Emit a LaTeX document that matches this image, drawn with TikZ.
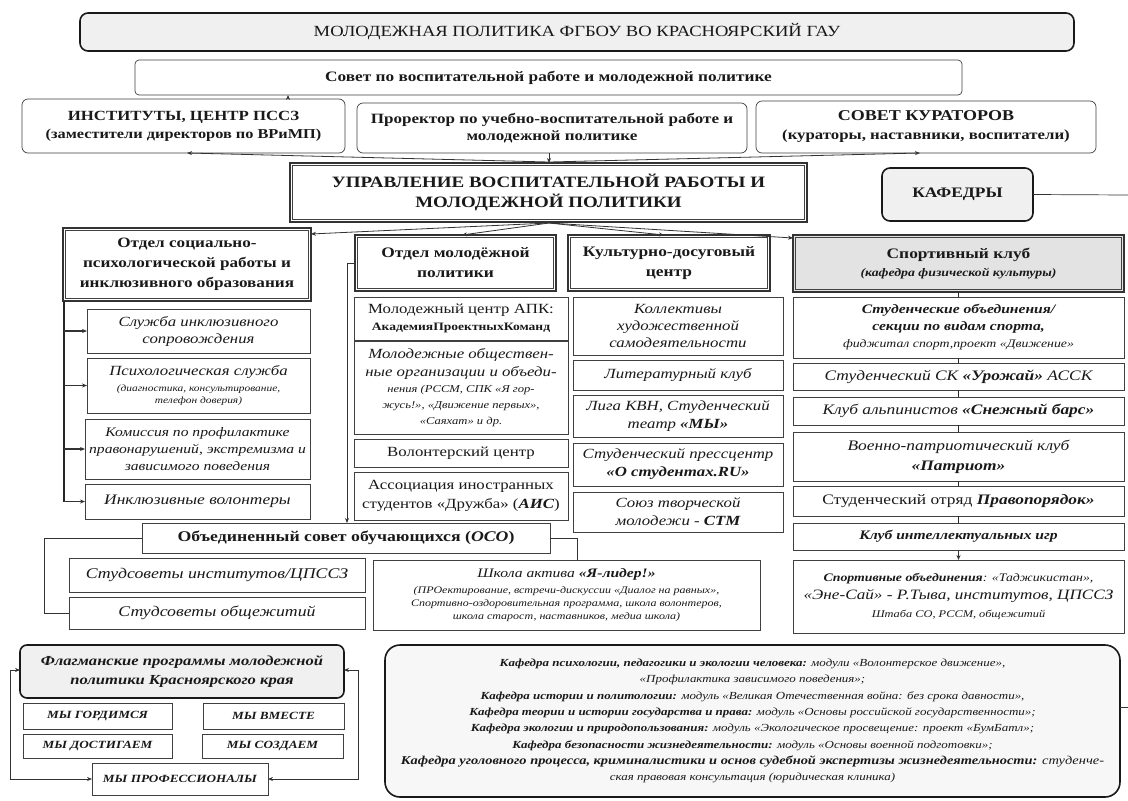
\documentclass[tikz,border=0pt]{standalone}
\usepackage{fontspec}
\setmainfont{Liberation Serif}[FakeStretch=1.2]
\usetikzlibrary{arrows.meta}
\newcommand\fsz[2]{\fontsize{#1}{#2}\selectfont}
\newcommand\bx[8]{\node[#6, font={#7}, minimum width={#4pt-#2pt}, minimum height={#5pt-#3pt}] (#1) at ({(#2+#4)/2},{(#3+#5)/2}) {#8};}
\tikzset{
 box/.style={draw=black!75, line width=0.7pt, fill=white, align=center, inner sep=1pt, outer sep=0pt, text=black!90},
 hdr/.style={box, line width=1.3pt, draw=black!80},
 inner/.style={draw=black!75, line width=0.6pt},
 rbox/.style={box, rounded corners=6pt},
 thickrbox/.style={box, rounded corners=8pt, line width=1.6pt, draw=black!90, fill=black!6},
 arr/.style={draw=black!80, line width=0.8pt, -{Stealth[length=5pt,width=4pt]}},
 darr/.style={draw=black!80, line width=0.8pt, {Stealth[length=5pt,width=4pt]}-{Stealth[length=5pt,width=4pt]}},
 ln/.style={draw=black!80, line width=0.7pt},
 thk/.style={draw=black!85, line width=1.6pt},
}
\begin{document}
\begin{tikzpicture}[x=1pt,y=-1pt]
\useasboundingbox[fill=white] (0,0) rectangle (1128,801);
% top tier
\bx{title}{80}{13}{1074}{51}{thickrbox}{\fsz{15.5}{18}}{МОЛОДЕЖНАЯ ПОЛИТИКА ФГБОУ ВО КРАСНОЯРСКИЙ ГАУ}
\bx{sovet}{135}{60}{962}{95}{rbox, rounded corners=4pt}{\fsz{14.4}{17}\bfseries}{Совет по воспитательной работе и молодежной политике}
\bx{inst}{22}{99}{345}{153}{rbox}{\fsz{13.6}{18}\bfseries}{{\fsz{14}{18}ИНСТИТУТЫ, ЦЕНТР ПССЗ}\\(заместители директоров по ВРиМП)}
\bx{prorektor}{357}{103}{747}{153}{rbox}{\fsz{14.2}{17}\bfseries}{Проректор по учебно-воспитательной работе и\\молодежной политике}
\bx{kurator}{756}{101}{1096}{153}{rbox}{\fsz{14}{19}\bfseries}{{\fsz{15}{18}СОВЕТ КУРАТОРОВ}\\(кураторы, наставники, воспитатели)}
\bx{upr}{290}{163}{807}{222}{hdr}{\fsz{15.8}{20}\bfseries}{УПРАВЛЕНИЕ ВОСПИТАТЕЛЬНОЙ РАБОТЫ И\\МОЛОДЕЖНОЙ ПОЛИТИКИ}
\bx{kafedry}{882}{168}{1033}{221}{thickrbox}{\fsz{14.5}{17}\bfseries}{КАФЕДРЫ}
% second tier
\bx{otdsoc}{63}{228}{311}{301}{hdr}{\fsz{14.3}{20}\bfseries}{Отдел социально-\\психологической работы и\\инклюзивного образования}
\bx{otdmol}{355}{235}{556}{291}{hdr}{\fsz{14.5}{20}\bfseries}{Отдел молодёжной\\политики}
\bx{kult}{568}{235}{770}{291}{hdr}{\fsz{14.5}{20}\bfseries}{Культурно-досуговый\\центр}
\bx{sport}{793}{235}{1124}{292}{hdr, fill=black!11}{\fsz{11.5}{18}\bfseries\itshape}{{\fsz{14.5}{18}\upshape Спортивный клуб}\\(кафедра физической культуры)}
\foreach \n in {upr,otdsoc,otdmol,kult,sport}
  \draw[inner] ([shift={(2.6pt,-2.6pt)}]\n.north west) rectangle ([shift={(-2.6pt,2.6pt)}]\n.south east);
% left column
\bx{s1}{87}{309}{310}{353}{box}{\fsz{14}{17}\itshape}{Служба инклюзивного\\сопровождения}
\bx{s2}{87}{358}{310}{413}{box}{\fsz{9.5}{12}\itshape}{{\fsz{14}{17}Психологическая служба}\\[4pt](диагностика, консультирование,\\телефон доверия)}
\bx{s3}{85}{419}{310}{479}{box}{\fsz{13}{17}\itshape}{Комиссия по профилактике\\правонарушений, экстремизма и\\зависимого поведения}
\bx{s4}{85}{484}{310}{519}{box}{\fsz{14.5}{17}\itshape}{Инклюзивные волонтеры}
% middle column 1
\bx{m1}{354}{297}{568}{340}{box}{\fsz{14}{17}}{Молодежный центр АПК:\\{\fsz{11.3}{13}\bfseries АкадемияПроектныхКоманд}}
\bx{m2}{354}{341}{568}{434}{box}{\fsz{10.5}{16}\itshape}{{\fsz{14}{17}Молодежные обществен-}\\[2pt]{\fsz{14}{17}ные организации и объеди-}\\нения (РССМ, СПК «Я гор-\\жусь!», «Движение первых»,\\«Саяхат» и др.}
\bx{m3}{354}{439}{568}{467}{box}{\fsz{14}{17}}{Волонтерский центр}
\bx{m4}{354}{472}{568}{520}{box}{\fsz{14}{19}}{Ассоциация иностранных\\студентов «Дружба» (\textbf{\textit{АИС}})}
% middle column 2
\bx{k1}{573}{297}{783}{355}{box}{\fsz{14}{17}\itshape}{Коллективы\\художественной\\самодеятельности}
\bx{k2}{573}{360}{783}{390}{box}{\fsz{14}{17}\itshape}{Литературный клуб}
\bx{k3}{573}{395}{783}{437}{box}{\fsz{14}{18}\itshape}{Лига КВН, Студенческий\\театр \textbf{«МЫ»}}
\bx{k4}{573}{443}{783}{486}{box}{\fsz{14}{18}\itshape}{Студенческий прессцентр\\\textbf{«О студентах.RU»}}
\bx{k5}{573}{492}{783}{532}{box}{\fsz{14}{18}\itshape}{Союз творческой\\молодежи - \textbf{СТМ}}
% sport column
\bx{p1}{793}{297}{1124}{358}{box}{\fsz{13}{17}\bfseries\itshape}{Студенческие объединения/\\секции по видам спорта,\\{\fsz{11.5}{13}\mdseries фиджитал спорт,проект «Движение»}}
\bx{p2}{793}{363}{1124}{390}{box}{\fsz{14.5}{17}\itshape}{Студенческий СК \textbf{«Урожай»} АССК}
\bx{p3}{793}{397}{1124}{425}{box}{\fsz{14.5}{17}\itshape}{Клуб альпинистов \textbf{«Снежный барс»}}
\bx{p4}{793}{432}{1124}{481}{box}{\fsz{14.5}{20}\itshape}{Военно-патриотический клуб\\\textbf{«Патриот»}}
\bx{p5}{793}{486}{1124}{516}{box}{\fsz{14.5}{17}}{Студенческий отряд \textbf{\textit{Правопорядок»}}}
\bx{p6}{793}{523}{1124}{550}{box}{\fsz{13}{17}\bfseries\itshape}{Клуб интеллектуальных игр}
\bx{p7}{793}{560}{1124}{633}{box}{\fsz{11.5}{18}\itshape}{\textbf{Спортивные объединения}: «Таджикистан»,\\{\fsz{14.3}{18}«Эне-Сай» - Р.Тыва, институтов, ЦПССЗ}\\{\fsz{10.3}{13}Штаба СО, РССМ, общежитий}}
% student council
\bx{oso}{142}{523}{550}{553}{box}{\fsz{14.8}{17}\bfseries}{Объединенный совет обучающихся (\textit{ОСО})}
\bx{st1}{69}{558}{365}{592}{box}{\fsz{14.8}{17}\itshape}{Студсоветы институтов/ЦПССЗ}
\bx{st2}{69}{597}{365}{629}{box}{\fsz{14.8}{17}\itshape}{Студсоветы общежитий}
\bx{shk}{373}{560}{760}{630}{box}{\fsz{10}{13}\itshape}{{\fsz{13}{17}Школа актива \textbf{«Я-лидер!»}}\\[3pt](ПРОектирование, встречи-дискуссии «Диалог на равных»,\\Спортивно-оздоровительная программа, школа волонтеров,\\школа старост, наставников, медиа школа)}
% flagship
\bx{flag}{20}{645}{344}{698}{thickrbox, rounded corners=7pt}{\fsz{13.8}{19}\bfseries\itshape}{Флагманские программы молодежной\\политики Красноярского края}
\bx{my1}{23}{703}{172}{729}{box}{\fsz{11}{14}\bfseries\itshape}{МЫ ГОРДИМСЯ}
\bx{my2}{203}{703}{344}{729}{box}{\fsz{11}{14}\bfseries\itshape}{МЫ ВМЕСТЕ}
\bx{my3}{23}{734}{172}{758}{box}{\fsz{11}{14}\bfseries\itshape}{МЫ ДОСТИГАЕМ}
\bx{my4}{202}{734}{343}{758}{box}{\fsz{11}{14}\bfseries\itshape}{МЫ СОЗДАЕМ}
\bx{my5}{92}{763}{268}{795}{box}{\fsz{11}{14}\bfseries\itshape}{МЫ ПРОФЕССИОНАЛЫ}
% departments box
\bx{kaf2}{385}{645}{1120}{797}{thickrbox, rounded corners=15pt, fill=black!3}{\fsz{10.8}{16.3}\itshape}{%
\textbf{Кафедра психологии, педагогики и экологии человека:} модули «Волонтерское движение»,\\
«Профилактика зависимого поведения»;\\
\textbf{Кафедра истории и политологии:} модуль «Великая Отечественная война: без срока давности»,\\
\textbf{Кафедра теории и истории государства и права:}  модуль «Основы российской государственности»;\\
\textbf{Кафедра экологии и природопользования:} модуль «Экологическое просвещение: проект «БумБатл»;\\
\textbf{Кафедра безопасности жизнедеятельности:}  модуль «Основы военной подготовки»;\\
{\fsz{12}{16.3}\textbf{Кафедра уголовного процесса, криминалистики и основ судебной экспертизы жизнедеятельности:}  студенче-}\\
ская правовая консультация (юридическая клиника)}
% ---- connectors
\coordinate (cA) at (288,0);
\draw[arr] (cA |- inst.north) -- (cA |- sovet.south);
\coordinate (cB) at (549,0);
\draw[arr] (cB |- prorektor.south) -- (cB |- upr.north);
\coordinate (uT) at (549,162);
\coordinate (cC) at (187,0);
\coordinate (cD) at (920,0);
\draw[arr] (uT) -- (cC |- inst.south);
\draw[arr] (uT) -- (cD |- kurator.south);
\coordinate (uB) at (549,223);
\coordinate (yA) at (0,234);
\coordinate (yB) at (0,238);
\coordinate (cE) at (462,0);
\coordinate (cF) at (664,0);
\draw[arr] (uB) -- (otdsoc.east |- yA);
\draw[arr] (uB) -- (cE |- otdmol.north);
\draw[arr] (uB) -- (cF |- kult.north);
\draw[arr] (uB) -- (sport.west |- yB);
% left column
\coordinate (lv) at (64,0);
\draw[thk] (lv |- otdsoc.south) -- (lv |- s4.west);
\foreach \n in {s1,s2,s3,s4} \draw[arr, line width=1.1pt] (lv |- \n.west) -- (\n.west);
% middle column
\coordinate (mv) at (347,0);
\draw[arr] (otdmol.west) -| (mv |- oso.north);
% sport column
\draw[thk] (sport.south) -- (p1.north);
\draw[thk] (p1.south) -- (p2.north);
\draw[thk] (p2.south) -- (p3.north);
\draw[thk] (p3.south) -- (p4.north);
\draw[thk] (p4.south) -- (p5.north);
\draw[thk] (p5.south) -- (p6.north);
\draw[arr, line width=1.2pt] (p6.south) -- (p7.north);
% student council
\coordinate (ov) at (44,0);
\draw[ln] (oso.west) -| (ov |- st2.west) -- (st2.west);
\coordinate (ow) at (577,0);
\draw[ln] (oso.east) -| (ow |- shk.north);
% flagship loops
\coordinate (fl) at (10,0);
\coordinate (fr) at (358,0);
\coordinate (fy) at (0,670);
\draw[darr] (flag.west |- fy) -| (fl |- my5.west) -- (my5.west);
\draw[darr] (flag.east |- fy) -| (fr |- my5.east) -- (my5.east);
% departments
\coordinate (kR) at (1128,195);
\draw[ln] (kafedry.east) -- (kR);
\coordinate (kR2) at (1128,707);
\draw[ln] (kaf2.east |- kR2) -- (kR2);
\end{tikzpicture}
\end{document}
